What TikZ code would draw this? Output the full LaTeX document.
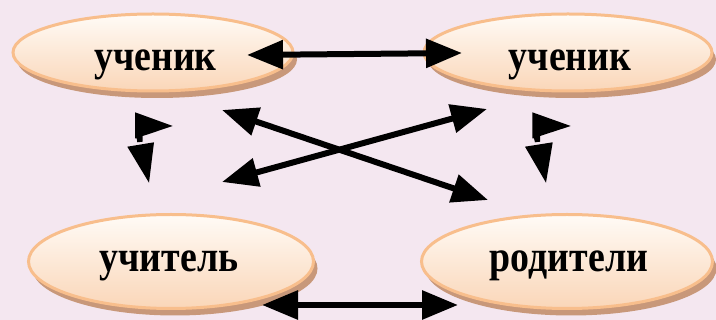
\documentclass[tikz,border=0pt]{standalone}
\usepackage{fontspec}
\setmainfont{Liberation Serif}
\usetikzlibrary{arrows.meta,shapes.geometric,shadows}
\definecolor{bgc}{RGB}{244,231,240}
\definecolor{borderc}{RGB}{248,190,140}
\definecolor{shadowc}{RGB}{200,152,122}
\definecolor{topc}{RGB}{255,251,246}
\definecolor{botc}{RGB}{250,214,184}
\tikzset{
  oval/.style={ellipse, draw=borderc, line width=3pt, inner sep=0pt,
    top color=topc, bottom color=botc,
    general shadow={fill=shadowc, shadow xshift=4pt, shadow yshift=-7pt}},
  lbl/.style={anchor=base, inner sep=0pt, font=\fontsize{44}{44}\selectfont\bfseries},
  dbl/.style={line width=6pt, {Triangle[length=36pt,width=28pt]}-{Triangle[length=36pt,width=28pt]}},
  blob/.style={fill=black}
}
\newcommand{\sq}[1]{\scalebox{0.86}[1]{#1}}
\begin{document}
\begin{tikzpicture}[x=1pt,y=-1pt]
\useasboundingbox (0,0) rectangle (716,320);
\fill[bgc] (0,0) rectangle (716,320);
% ovals
\node[oval, minimum width=280pt, minimum height=77pt] (u1) at (153,52.5) {};
\node[oval, minimum width=288pt, minimum height=77pt] (u2) at (568,52.5) {};
\node[oval, minimum width=285pt, minimum height=94pt] (t) at (171,261.5) {};
\node[oval, minimum width=291pt, minimum height=94pt] (p) at (567,261.5) {};
% labels
\node[lbl] (lu1) at (155.5,71) {\sq{ученик}};
\node[lbl] (lu2) at (570,71) {\sq{ученик}};
\node[lbl] (lt) at (169,272) {\sq{учитель}};
\node[lbl] (lp) at (569,272) {\sq{родители}};
% arrow end points
\coordinate (a1) at (247,55);
\coordinate (a2) at (462,53);
\coordinate (b1) at (262,305);
\coordinate (b2) at (458,305);
\coordinate (c1) at (222,110);
\coordinate (c2) at (488,200);
\coordinate (d1) at (222,182);
\coordinate (d2) at (487,109);
\draw[dbl] (a1) -- (a2);
\draw[dbl] (b1) -- (b2);
\draw[dbl] (c1) -- (c2);
\draw[dbl] (d1) -- (d2);
% small degenerate arrows (left)
\fill[blob] (135,112.3) -- (172.7,126) -- (146.7,134.7) -- (142.7,136) -- (142.7,141.7) -- (137.3,142.3) -- (136.7,138.3) -- (135,138.3) -- cycle;
\fill[blob] (127.3,146.7) -- (154,142.3) -- (149,182.7) -- cycle;
% small degenerate arrows (right)
\fill[blob] (532.3,112.3) -- (570.7,126) -- (544,134.7) -- (540,136) -- (540,141.7) -- (535,142.3) -- (534,138.3) -- (532.3,138.3) -- cycle;
\fill[blob] (525,146.7) -- (552.7,142.3) -- (546,182.7) -- cycle;
\end{tikzpicture}
\end{document}
